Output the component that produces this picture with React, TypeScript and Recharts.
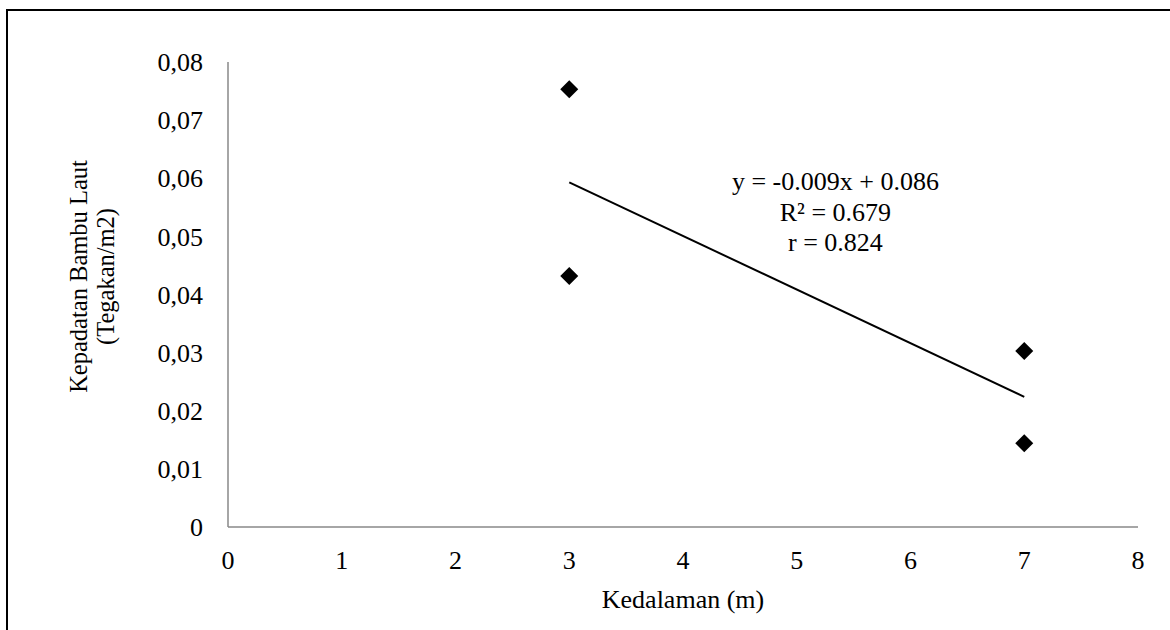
import React from 'react';
import { ScatterChart, Scatter, XAxis, YAxis, ReferenceDot } from 'recharts';

const depth = [3, 3, 7, 7];
const density = [0.0753, 0.0432, 0.0303, 0.0144];
const trendDepth = [3, 7];
const trendDensity = [0.0593, 0.0224];
const xTicks = [0, 1, 2, 3, 4, 5, 6, 7, 8];
const yTicks = [0, 0.01, 0.02, 0.03, 0.04, 0.05, 0.06, 0.07, 0.08];
const equationLines = ['y = -0.009x + 0.086', 'R² = 0.679', 'r = 0.824'];
const equationAnchor = { x: 5.34, y: 0.0588 };

const points = depth.map((d, i) => ({ x: d, y: density[i] }));
const trend = trendDepth.map((d, i) => ({ x: d, y: trendDensity[i] }));

const FONT = '"Liberation Serif", "Times New Roman", serif';
const FS = 26;

const Diamond = (props: any) => {
  const { cx, cy } = props;
  if (cx == null || cy == null) return null;
  const h = 9;
  return (
    <polygon
      points={`${cx},${cy - h} ${cx + h},${cy} ${cx},${cy + h} ${cx - h},${cy}`}
      fill="#000"
    />
  );
};

const YLabel = (props: any) => {
  const { viewBox } = props;
  const cx = viewBox.x + 128 - 141;
  const cy = viewBox.y + viewBox.height / 2 - 18;
  return (
    <text
      transform={`translate(${cx},${cy}) rotate(-90)`}
      textAnchor="middle"
      fontFamily={FONT}
      fontSize={24.5}
      fill="#000"
    >
      <tspan x={0} y={0}>Kepadatan Bambu Laut</tspan>
      <tspan x={0} y={27}>(Tegakan/m2)</tspan>
    </text>
  );
};

const EqLabel = (props: any) => {
  const { viewBox } = props;
  const x = viewBox.x + (viewBox.width || 0) / 2;
  const y = viewBox.y + (viewBox.height || 0) / 2;
  return (
    <text textAnchor="middle" fontFamily={FONT} fontSize={FS} fill="#000">
      {equationLines.map((l, i) => (
        <tspan key={i} x={x} y={y + 5 + i * 30.5}>
          {l}
        </tspan>
      ))}
    </text>
  );
};

const fmtY = (v: number) => (v === 0 ? '0' : v.toFixed(2).replace('.', ','));

export default function App() {
  return (
    <div style={{ position: 'absolute', left: 0, top: 0, width: 1170, height: 630, background: '#fff', overflow: 'hidden' }}>
      <div
        style={{
          position: 'absolute',
          left: 6,
          top: 9,
          width: 1200,
          height: 700,
          borderTop: '2.5px solid #000',
          borderLeft: '2.5px solid #000',
        }}
      />
      <div style={{ position: 'absolute', left: 0, top: 0 }}>
        <ScatterChart width={1170} height={630} margin={{ top: 62, right: 32, bottom: 0, left: 100 }}>
          <XAxis
            type="number"
            dataKey="x"
            domain={[0, 8]}
            ticks={xTicks}
            interval={0}
            allowDecimals={false}
            height={103}
            tickLine={false}
            tickSize={6}
            tickMargin={18}
            axisLine={{ stroke: '#898989', strokeWidth: 1.5 }}
            tick={{ fill: '#000', fontSize: FS, fontFamily: FONT }}
            label={{ value: 'Kedalaman (m)', position: 'insideBottom', offset: 22, fill: '#000', fontSize: FS, fontFamily: FONT }}
          />
          <YAxis
            type="number"
            dataKey="y"
            domain={[0, 0.08]}
            ticks={yTicks}
            interval={0}
            width={128}
            tickLine={false}
            tickSize={6}
            tickMargin={19}
            tickFormatter={fmtY}
            axisLine={{ stroke: '#898989', strokeWidth: 1.5 }}
            tick={{ fill: '#000', fontSize: FS, fontFamily: FONT }}
            label={<YLabel />}
          />
          <Scatter
            data={trend}
            line={{ stroke: '#000', strokeWidth: 2 }}
            shape={() => null}
            isAnimationActive={false}
          />
          <Scatter data={points} shape={<Diamond />} isAnimationActive={false} />
          <ReferenceDot
            x={equationAnchor.x}
            y={equationAnchor.y}
            r={0}
            fill="none"
            stroke="none"
            label={<EqLabel />}
            isFront
          />
        </ScatterChart>
      </div>
    </div>
  );
}
